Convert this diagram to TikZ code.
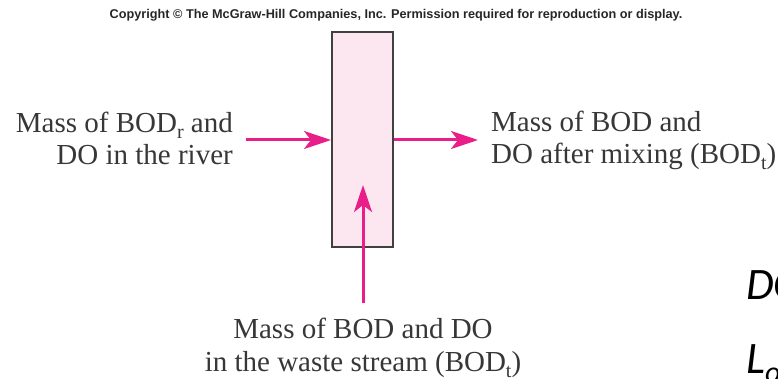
\documentclass[tikz,border=0pt]{standalone}
\usepackage{fontspec}
\setmainfont{Liberation Serif}
\newfontfamily\copyfont{Liberation Sans}
\newfontfamily\slidefont{Carlito}
\usetikzlibrary{arrows.meta}

\definecolor{flowpink}{RGB}{234,30,137}
\definecolor{tankfill}{RGB}{252,231,241}
\definecolor{tankline}{RGB}{64,64,64}
\definecolor{labelgray}{RGB}{55,55,55}

% lowered subscript as set in the figure labels
\newcommand{\lowsub}[1]{\raisebox{-6pt}{\fontsize{20}{20}\selectfont #1}}

\tikzset{
  flow/.style={draw=flowpink, line width=3pt,
    -{Stealth[length=27pt, width=18pt, inset=7pt]}},
  tank/.style={draw=tankline, fill=tankfill, line width=2pt,
    minimum width=61pt, minimum height=215pt, inner sep=0pt},
  caption/.style={text=labelgray, inner sep=0pt,
    font=\fontsize{29}{32.7}\selectfont},
  slide/.style={inner sep=0pt, text=black,
    font=\slidefont\itshape\fontsize{45}{45}\selectfont},
}

\begin{document}
\begin{tikzpicture}[x=1pt, y=-1pt]
  \useasboundingbox (0,0) rectangle (778,379);

  % header line
  \node[inner sep=0pt, text=black!85, font=\copyfont\bfseries\fontsize{12.7}{14}\selectfont]
    (copy) at (396,15)
    {Copyright \textcopyright\ The McGraw-Hill Companies, Inc. Permission required for reproduction or display.};

  % mixing box
  \node[tank] (tank) at (362.5,139.5) {};

  % flows in and out
  \coordinate (riverIn) at (246,140);
  \coordinate (mixOut) at (478,140);
  \coordinate (wasteIn) at (363,303);
  \coordinate (wasteTip) at (363,185);

  \draw[flow] (riverIn) -- (tank.west |- riverIn);
  \draw[flow] (tank.east |- mixOut) -- (mixOut);
  \draw[flow] (wasteIn) -- (wasteTip);

  % labels (base anchor sits on the last line)
  \node[caption, align=right, anchor=base east] (river) at (233,165)
    {Mass of BOD\lowsub{r} and\\DO in the river};
  \node[caption, align=left, anchor=base west] (mixed) at (491,164)
    {Mass of BOD and\\DO after mixing (BOD\lowsub{t})};
  \node[caption, align=center, anchor=base] (waste) at (363,371.5)
    {Mass of BOD and DO\\in the waste stream (BOD\lowsub{t})};

  % slide text at the right edge
  \begin{scope}
    \clip (0,0) rectangle (778,379);
    \node[slide, anchor=base west] (dzero) at (746,299) {DO};
    \node[slide, anchor=base west] (lzero) at (746,373)
      {L\raisebox{-9pt}{\fontsize{30}{30}\selectfont o}};
  \end{scope}
\end{tikzpicture}
\end{document}
